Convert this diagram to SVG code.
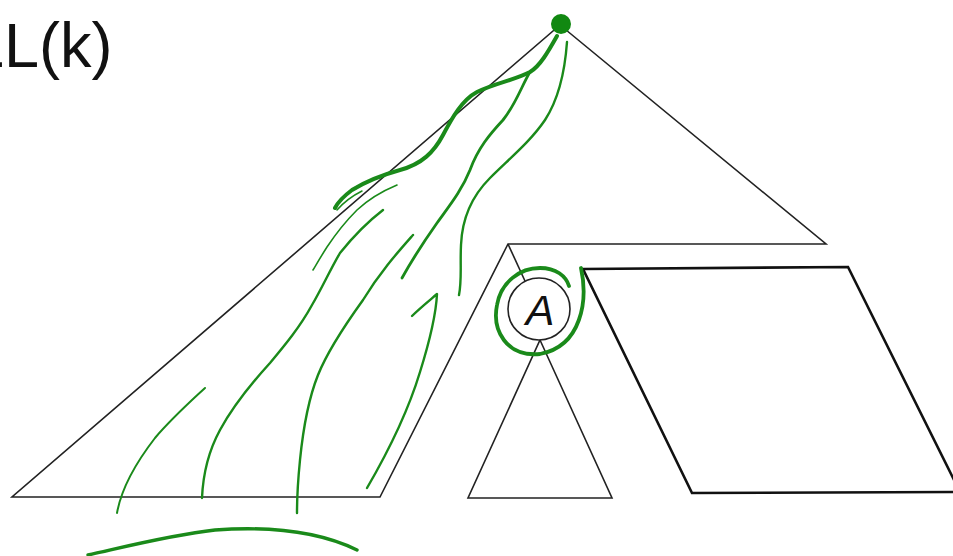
<svg xmlns="http://www.w3.org/2000/svg" width="953" height="556" viewBox="0 0 953 556">
<style>
.edge{fill:none;stroke:#222;stroke-width:1.6;stroke-linejoin:miter}
.thick{fill:none;stroke:#111;stroke-width:2.6}
.g{fill:none;stroke:#1a8a1a;stroke-width:2.4;stroke-linecap:round;stroke-linejoin:round}
.lbl{font-family:"Liberation Sans",Arial,sans-serif;fill:#111}
</style>
<rect width="953" height="556" fill="#fff"/>
<text class="lbl" x="-31" y="67" font-size="63">LL(k)</text>
<g id="tree">
<polygon class="edge" points="560,25 826,244 508,244 380,497 12,497"/>
</g>
<g id="right-part">
<polygon class="thick" points="583,269 848,267 960,492 692,493"/>
</g>
<g id="subtree">
<polygon class="edge" points="540,340 612,498 468,498"/>
</g>
<g id="connectors">
<line class="edge" x1="508" y1="244" x2="525" y2="281"/>
</g>
<g id="node-A">
<circle cx="539" cy="309" r="31" fill="#fff" stroke="#222" stroke-width="1.6"/>
<text class="lbl" x="540" y="325" font-size="43" font-style="italic" text-anchor="middle">A</text>
</g>
<g id="highlight">
<circle cx="561" cy="24" r="10" fill="#118811"/>
<path class="g" style="stroke-width:3.8" d="M581,268 C588,300 582,346 540,354 C506,357 492,330 497,305 C501,282 520,268 540,268 C556,268 566,276 569,286"/>
<path class="g" style="stroke-width:4" d="M557,36 C548,52 540,66 530,72 C515,80 495,83 477,92 C462,100 452,118 443,135 C434,152 422,164 400,170 C382,175 365,182 352,190 C344,196 338,202 335,208"/>
<path class="g" style="stroke-width:1.5" d="M337,210 C344,202 352,196 362,191"/>
<path class="g" style="stroke-width:2.8" d="M530,72 C522,85 516,104 503,120 C490,134 478,148 470,170 C462,190 450,205 437,223 C425,240 412,260 402,278"/>
<path class="g" style="stroke-width:1.6" d="M397,185 C385,190 372,196 357,210 C345,222 335,235 327,247 C320,258 316,265 313,270"/>
<path class="g" d="M383,210 C370,220 352,238 340,253 C330,270 322,288 312,305 C300,327 285,345 270,363 C250,385 232,408 220,430 C208,452 203,475 202,498"/>
<path class="g" d="M413,235 C398,252 380,272 363,300 C345,325 328,350 318,375 C308,400 303,430 300,460 C298,480 297,495 297,513"/>
<path class="g" d="M567,42 C565,70 558,100 545,120 C530,142 510,158 490,178 C470,198 462,220 461,245 C460,265 462,280 459,295"/>
<path class="g" d="M412,316 C420,308 430,300 437,294 C436,315 430,340 420,372 C410,405 395,440 367,488"/>
<path class="g" style="stroke-width:2" d="M205,388 C190,402 172,418 155,438 C138,460 122,485 117,513"/>
<path class="g" style="stroke-width:3.4" d="M88,555 C120,548 170,535 215,530 C270,526 320,532 357,550"/>
</g>
</svg>
